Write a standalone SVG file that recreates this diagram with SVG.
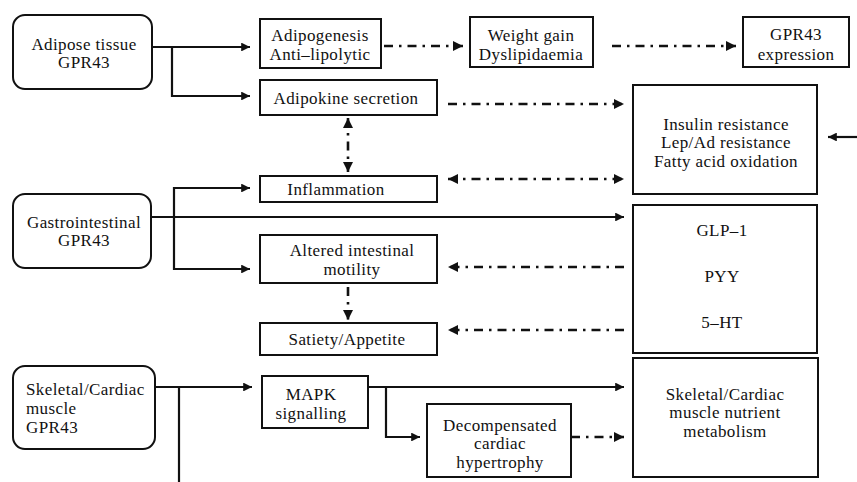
<svg xmlns="http://www.w3.org/2000/svg" width="857" height="482" viewBox="0 0 857 482">
<style>
text{font-family:"Liberation Serif","Times New Roman","DejaVu Serif",serif;font-size:17px;letter-spacing:0.4px;fill:#111;text-anchor:middle}
.box{fill:#fff;stroke:#111;stroke-width:2}
.s{fill:none;stroke:#111;stroke-width:2.2}
.d{fill:none;stroke:#111;stroke-width:2.6;stroke-dasharray:9 6 2.5 6}
</style>
<defs>
<marker id="ah" viewBox="0 0 10 10" refX="10" refY="5" markerWidth="4" markerHeight="4" orient="auto-start-reverse" markerUnits="strokeWidth">
<path d="M0,0 L10,5 L0,10 z" fill="#111"/>
</marker>
</defs>
<rect width="857" height="482" fill="#fff"/>
<g id="connectors">
<path class="s" d="M152,47 H250" marker-end="url(#ah)"/>
<path class="s" d="M172,47 V96 H250" marker-end="url(#ah)"/>
<path class="d" d="M384,46 H463" marker-end="url(#ah)"/>
<path class="d" d="M612,46 H736" marker-end="url(#ah)"/>
<path class="d" d="M448,104 H624" marker-end="url(#ah)"/>
<path class="s" d="M857,137 H828" marker-end="url(#ah)"/>
<path class="d" d="M348,118 V172" marker-start="url(#ah)" marker-end="url(#ah)"/>
<path class="d" d="M448,179 H624" marker-start="url(#ah)" marker-end="url(#ah)"/>
<path class="s" d="M151,217 H624" marker-end="url(#ah)"/>
<path class="s" d="M174,217 V188 H250" marker-end="url(#ah)"/>
<path class="s" d="M174,217 V269 H250" marker-end="url(#ah)"/>
<path class="d" d="M624,267 H448" marker-end="url(#ah)"/>
<path class="d" d="M624,330 H448" marker-end="url(#ah)"/>
<path class="d" d="M348,287 V320" marker-end="url(#ah)"/>
<path class="s" d="M155,387 H252" marker-end="url(#ah)"/>
<path class="s" d="M179,387 V482"/>
<path class="s" d="M368,387 H624" marker-end="url(#ah)"/>
<path class="s" d="M386,387 V437 H420" marker-end="url(#ah)"/>
<path class="d" d="M571,437 H624" marker-end="url(#ah)"/>
</g>
<g id="adipose">
<rect class="box" x="13" y="15" width="139" height="74" rx="12"/>
<text x="84" y="50">Adipose tissue</text>
<text x="84" y="68">GPR43</text>
</g>
<g id="gastro">
<rect class="box" x="13" y="194" width="138" height="74" rx="12"/>
<text x="84" y="228">Gastrointestinal</text>
<text x="84" y="246">GPR43</text>
</g>
<g id="skeletal">
<rect class="box" x="13" y="366" width="142" height="83" rx="12"/>
<text x="26" y="395" style="text-anchor:start">Skeletal/Cardiac</text>
<text x="26" y="414" style="text-anchor:start">muscle</text>
<text x="26" y="433" style="text-anchor:start">GPR43</text>
</g>
<g id="adipogenesis">
<rect class="box" x="260" y="19" width="121" height="49"/>
<text x="320" y="41">Adipogenesis</text>
<text x="320" y="60">Anti–lipolytic</text>
</g>
<g id="adipokine">
<rect class="box" x="260" y="80" width="177" height="35"/>
<text x="346" y="104">Adipokine secretion</text>
</g>
<g id="inflammation">
<rect class="box" x="260" y="176" width="177" height="26"/>
<text x="336" y="195">Inflammation</text>
</g>
<g id="motility">
<rect class="box" x="260" y="235" width="177" height="48"/>
<text x="352" y="256">Altered intestinal</text>
<text x="352" y="275">motility</text>
</g>
<g id="satiety">
<rect class="box" x="260" y="323" width="177" height="32"/>
<text x="347" y="345">Satiety/Appetite</text>
</g>
<g id="mapk">
<rect class="box" x="262" y="376" width="106" height="52"/>
<text x="311" y="400">MAPK</text>
<text x="311" y="419">signalling</text>
</g>
<g id="decompensated">
<rect class="box" x="427" y="404" width="144" height="73"/>
<text x="500" y="431">Decompensated</text>
<text x="500" y="449">cardiac</text>
<text x="500" y="468">hypertrophy</text>
</g>
<g id="weight">
<rect class="box" x="470" y="17" width="123" height="50"/>
<text x="531" y="41">Weight gain</text>
<text x="531" y="60">Dyslipidaemia</text>
</g>
<g id="gpr43expr">
<rect class="box" x="743" y="17" width="106" height="50"/>
<text x="796" y="40">GPR43</text>
<text x="796" y="60">expression</text>
</g>
<g id="insulin">
<rect class="box" x="633" y="85" width="184" height="109"/>
<text x="726" y="130">Insulin resistance</text>
<text x="726" y="148">Lep/Ad resistance</text>
<text x="726" y="167">Fatty acid oxidation</text>
</g>
<g id="hormones">
<rect class="box" x="633" y="205" width="184" height="148"/>
<text x="722" y="236">GLP–1</text>
<text x="722" y="282">PYY</text>
<text x="722" y="328">5–HT</text>
</g>
<g id="nutrient">
<rect class="box" x="633" y="358" width="185" height="119"/>
<text x="725" y="400">Skeletal/Cardiac</text>
<text x="725" y="418">muscle nutrient</text>
<text x="725" y="437">metabolism</text>
</g>
</svg>
